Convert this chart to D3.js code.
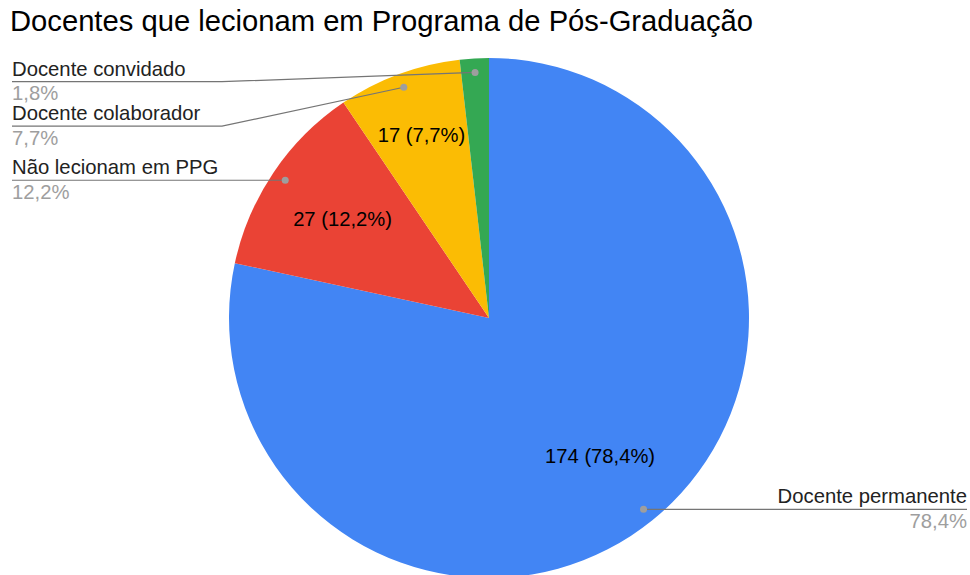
<!DOCTYPE html>
<html lang="pt">
<head>
<meta charset="UTF-8">
<title>pie</title>
<style>
  body { margin: 0; background: #fff; }
  svg { display: block; font-family: "Liberation Sans", Arial, sans-serif; }
</style>
</head>
<body>
<svg width="970" height="575"></svg>
<script src="https://cdn.jsdelivr.net/npm/d3@7/dist/d3.min.js"></script>
<script>
// dados
var categorias = ["Docente permanente", "Não lecionam em PPG", "Docente colaborador", "Docente convidado"];
var valores = [174, 27, 17, 4];
var cores = ["#4285f4", "#ea4335", "#fbbc04", "#34a853"];
var titulo = "Docentes que lecionam em Programa de Pós-Graduação";

var svg = d3.select("svg");
var cx = 489, cy = 318, r = 260;
var total = d3.sum(valores);
var fmt = function(v){ return (v / total * 100).toFixed(1).replace(".", ",") + "%"; };

svg.append("text").attr("x", 10).attr("y", 31)
  .attr("font-size", 29.2).attr("fill", "#000").text(titulo);

var dados = categorias.map(function(c, i){ return {nome: c, valor: valores[i], cor: cores[i]}; });
var pie = d3.pie().value(function(d){ return d.valor; }).sort(null);
var arcos = pie(dados);
var arc = d3.arc().innerRadius(0).outerRadius(r);

var g = svg.append("g").attr("transform", "translate(" + cx + "," + cy + ")");
g.selectAll("path").data(arcos).enter().append("path")
  .attr("d", arc).attr("fill", function(d){ return d.data.cor; });

// rótulos internos
g.selectAll("text.in").data(arcos.filter(function(d){ return d.endAngle - d.startAngle > 0.2; }))
  .enter().append("text").attr("class", "in")
  .attr("transform", function(d){
    var rr = (d.endAngle - d.startAngle) < 0.6 ? r * 0.75 : r * 0.68;
    return "translate(" + d3.arc().innerRadius(rr).outerRadius(rr).centroid(d) + ")";
  })
  .attr("text-anchor", "middle").attr("dominant-baseline", "central")
  .attr("font-size", 20.2).attr("fill", "#000")
  .text(function(d){ return d.data.valor + " (" + fmt(d.data.valor) + ")"; });

// rótulos externos
var dotArc = d3.arc().innerRadius(r * 0.946).outerRadius(r * 0.946);
var pontos = arcos.map(function(d){
  var c = dotArc.centroid(d);
  return {d: d, x: cx + c[0], y: cy + c[1], esq: c[0] < 0};
});

var esquerda = pontos.filter(function(p){ return p.esq; }).sort(function(a, b){ return a.y - b.y; });
var minY = 81.7, passo = 44.5, prev = -Infinity;
esquerda.forEach(function(p){
  p.ly = Math.max(p.y, minY, prev + passo);
  prev = p.ly;
});
pontos.filter(function(p){ return !p.esq; }).forEach(function(p){ p.ly = p.y; });

var cotovelo = 222;
pontos.forEach(function(p){
  var pts;
  if (p.esq) pts = [[12, p.ly], [cotovelo, p.ly], [p.x, p.y]];
  else pts = [[p.x, p.y], [967, p.ly]];
  svg.append("path").attr("d", d3.line()(pts))
    .attr("fill", "none").attr("stroke", "#757575").attr("stroke-width", 1.2);
  svg.append("circle").attr("cx", p.x).attr("cy", p.y).attr("r", 3.5).attr("fill", "#9e9e9e");
  var tx = p.esq ? 12 : 967, anc = p.esq ? "start" : "end";
  svg.append("text").attr("x", tx).attr("y", p.ly - 6).attr("text-anchor", anc)
    .attr("font-size", 20.3).attr("fill", "#222").text(p.d.data.nome);
  svg.append("text").attr("x", tx).attr("y", p.ly + 18.5).attr("text-anchor", anc)
    .attr("font-size", 20.3).attr("fill", "#9e9e9e").text(fmt(p.d.data.valor));
});
</script>
</body>
</html>
